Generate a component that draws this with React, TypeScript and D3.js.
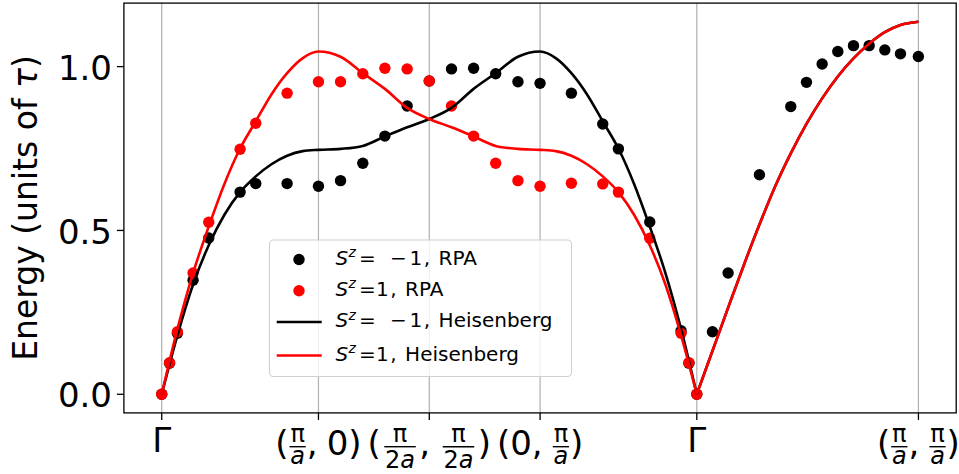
import React from 'react';
import * as d3 from 'd3';

const W = 959;
const H = 474;
const FONT = "'DejaVu Sans', sans-serif";

// Path position (units of pi/a) of the high-symmetry points: Γ, (π/a,0), (π/2a,π/2a), (0,π/a), Γ, (π/a,π/a)
const tickK = [0, 1, 1.7071, 2.4142, 3.4142, 4.8284];
const yTicks = [0.0, 0.5, 1.0];
const yTickLabels = ['0.0', '0.5', '1.0'];

type Part = { t: 'txt'; s: string } | { t: 'frac'; n: string; d: string } | { t: 'sp' };
const xTickLabels: Part[][] = [
  [{ t: 'txt', s: 'Γ' }],
  [{ t: 'txt', s: '(' }, { t: 'frac', n: 'π', d: 'a' }, { t: 'txt', s: ',' }, { t: 'sp' }, { t: 'txt', s: '0)' }],
  [{ t: 'txt', s: '(' }, { t: 'frac', n: 'π', d: '2a' }, { t: 'txt', s: ',' }, { t: 'sp' }, { t: 'frac', n: 'π', d: '2a' }, { t: 'txt', s: ')' }],
  [{ t: 'txt', s: '(0,' }, { t: 'sp' }, { t: 'frac', n: 'π', d: 'a' }, { t: 'txt', s: ')' }],
  [{ t: 'txt', s: 'Γ' }],
  [{ t: 'txt', s: '(' }, { t: 'frac', n: 'π', d: 'a' }, { t: 'txt', s: ',' }, { t: 'sp' }, { t: 'frac', n: 'π', d: 'a' }, { t: 'txt', s: ')' }],
];

// Heisenberg curves along Γ-X-M'-Y-Γ
const heisK = [0, 0.1, 0.2, 0.3, 0.4, 0.5, 0.6, 0.7, 0.8, 0.9, 1.0,
  1.141, 1.283, 1.424, 1.566, 1.707,
  1.849, 1.990, 2.131, 2.273, 2.414,
  2.514, 2.614, 2.714, 2.814, 2.914, 3.014, 3.114, 3.214, 3.314, 3.414];
const heisMinus = [0, 0.18, 0.335, 0.455, 0.548, 0.617, 0.665, 0.702, 0.728, 0.742, 0.746,
  0.749, 0.758, 0.787, 0.815, 0.840,
  0.874, 0.932, 0.980, 1.030, 1.046,
  1.026, 0.98, 0.915, 0.833, 0.75, 0.642, 0.512, 0.37, 0.199, 0];
const heisPlus = [0, 0.199, 0.37, 0.512, 0.642, 0.75, 0.833, 0.915, 0.98, 1.026, 1.046,
  1.030, 0.980, 0.932, 0.874, 0.840,
  0.815, 0.787, 0.758, 0.749, 0.746,
  0.742, 0.728, 0.702, 0.665, 0.617, 0.548, 0.455, 0.335, 0.18, 0];
// Γ-M (both spin sectors coincide)
const heisDiagK = [3.414, 3.514, 3.614, 3.714, 3.814, 3.914, 4.014, 4.114, 4.214, 4.314, 4.414, 4.514, 4.614, 4.714, 4.828];
const heisDiag = [0, 0.132, 0.264, 0.394, 0.518, 0.634, 0.735, 0.825, 0.903, 0.97, 1.025, 1.07, 1.105, 1.127, 1.137];

// RPA points
const rpaK = [0, 0.05, 0.1, 0.2, 0.3, 0.5, 0.6, 0.8, 1.0,
  1.141, 1.283, 1.424, 1.566, 1.707,
  1.849, 1.990, 2.131, 2.273, 2.414,
  2.614, 2.814, 2.914, 3.114, 3.314, 3.364, 3.414];
const rpaMinus = [0, 0.095, 0.186, 0.348, 0.477, 0.617, 0.643, 0.643, 0.635,
  0.652, 0.705, 0.788, 0.880, 0.956,
  0.993, 0.995, 0.978, 0.954, 0.949,
  0.919, 0.825, 0.749, 0.526, 0.194, 0.095, 0];
const rpaPlus = [0, 0.096, 0.191, 0.37, 0.525, 0.748, 0.827, 0.919, 0.954,
  0.954, 0.978, 0.995, 0.993, 0.956,
  0.880, 0.788, 0.705, 0.652, 0.635,
  0.644, 0.642, 0.617, 0.476, 0.186, 0.096, 0];
const rpaDiagK = [3.514, 3.614, 3.814, 4.014, 4.114, 4.214, 4.314, 4.414, 4.514, 4.614, 4.714, 4.828];
const rpaDiagMinus = [0.191, 0.370, 0.670, 0.878, 0.952, 1.008, 1.046, 1.064, 1.064, 1.051, 1.039, 1.031];

const legendItems = [
  { kind: 'dot', color: '#000000', minus: true, suffix: 'RPA' },
  { kind: 'dot', color: '#ff0000', minus: false, suffix: 'RPA' },
  { kind: 'line', color: '#000000', minus: true, suffix: 'Heisenberg' },
  { kind: 'line', color: '#ff0000', minus: false, suffix: 'Heisenberg' },
];

let ctx: CanvasRenderingContext2D | null = null;
function measure(s: string, font: string): number {
  if (!ctx) ctx = document.createElement('canvas').getContext('2d');
  if (!ctx) return s.length * 10;
  ctx.font = font;
  return ctx.measureText(s).width;
}

const BIG = 34;
const SMALL = 24;

const isLetter = (c: string) => /[a-z]/.test(c);
function mathWidth(s: string, size: number) {
  return s.split('').reduce((acc, c) => acc + measure(c, `${isLetter(c) ? 'italic ' : ''}${size}px 'DejaVu Sans'`), 0);
}

function XLabel({ parts, cx, baseline }: { parts: Part[]; cx: number; baseline: number }) {
  const spans: React.ReactNode[] = [];
  const bars: { x1: number; x2: number; y: number }[] = [];
  let cur = 0;
  const barY = baseline - 8.3;
  let key = 0;
  const pushMath = (s: string, xStart: number, yb: number) => {
    let xx = xStart;
    s.split('').forEach((c) => {
      spans.push(
        <tspan key={key++} x={xx} y={yb} fontSize={SMALL} fontStyle={isLetter(c) ? 'italic' : 'normal'}>{c}</tspan>
      );
      xx += measure(c, `${isLetter(c) ? 'italic ' : ''}${SMALL}px 'DejaVu Sans'`);
    });
  };
  parts.forEach((p) => {
    if (p.t === 'txt') {
      spans.push(<tspan key={key++} x={cur} y={baseline} fontSize={BIG}>{p.s}</tspan>);
      cur += measure(p.s, `${BIG}px 'DejaVu Sans'`);
    } else if (p.t === 'sp') {
      cur += BIG * 0.27;
    } else {
      const wn = mathWidth(p.n, SMALL);
      const wd = mathWidth(p.d, SMALL);
      const pad = p.d.length > 1 ? 2.5 : 0;
      const bw = Math.max(wn, wd) + 1.5;
      const x0 = cur + 1 + pad;
      const denTop = /[0-9]/.test(p.d) ? 0.729 * SMALL : 0.547 * SMALL;
      pushMath(p.n, x0 + (bw - wn) / 2, barY - 5);
      pushMath(p.d, x0 + (bw - wd) / 2, barY + 3.8 + denTop);
      bars.push({ x1: x0, x2: x0 + bw, y: barY });
      cur += bw + 2 + 2 * pad;
    }
  });
  return (
    <g transform={`translate(${cx - cur / 2},0)`}>
      <text>{spans}</text>
      {bars.map((b, i) => (
        <line key={i} x1={b.x1} x2={b.x2} y1={b.y} y2={b.y} stroke="#000" strokeWidth={1.4} />
      ))}
    </g>
  );
}

export default function App() {
  const kMax = d3.max(heisDiagK) as number;
  const eMax = d3.max(heisDiag) as number;
  const x = d3.scaleLinear().domain([-0.05 * kMax, kMax * 1.05]).range([123.9, 956.2]);
  const y = d3.scaleLinear().domain([-0.05 * eMax, eMax * 1.05]).range([412.9, 3.1]);
  const [x0, x1] = x.range();
  const [y0, y1] = y.range();

  const line = d3.line<[number, number]>()
    .x((d) => x(d[0]))
    .y((d) => y(d[1]))
    .curve(d3.curveMonotoneX);

  const minusPath = line(heisK.map((k, i) => [k, heisMinus[i]] as [number, number])) || '';
  const plusPath = line(heisK.map((k, i) => [k, heisPlus[i]] as [number, number])) || '';
  const diagPath = line(heisDiagK.map((k, i) => [k, heisDiag[i]] as [number, number])) || '';

  const R = 5.7;
  const LW = 2.6;

  const legendRows = [259.5, 290.8, 322, 355.5];

  return (
    <svg width={W} height={H} style={{ position: 'absolute', left: 0, top: 0, background: '#fff' }}
      fontFamily={FONT}>
      <rect x={0} y={0} width={W} height={H} fill="#fff" />
      {/* vertical grid */}
      {tickK.map((k, i) => (
        <line key={i} x1={x(k)} x2={x(k)} y1={y1} y2={y0} stroke="#b0b0b0" strokeWidth={1.2} />
      ))}
      {/* RPA points */}
      {rpaK.map((k, i) => (
        <circle key={'m' + i} cx={x(k)} cy={y(rpaMinus[i])} r={R} fill="#000" />
      ))}
      {rpaDiagK.map((k, i) => (
        <circle key={'d' + i} cx={x(k)} cy={y(rpaDiagMinus[i])} r={R} fill="#000" />
      ))}
      {rpaK.map((k, i) => (
        <circle key={'p' + i} cx={x(k)} cy={y(rpaPlus[i])} r={R} fill="#ff0000" />
      ))}
      {/* Heisenberg lines */}
      <path d={minusPath} fill="none" stroke="#000" strokeWidth={LW} />
      <path d={diagPath} fill="none" stroke="#000" strokeWidth={LW} />
      <path d={plusPath} fill="none" stroke="#ff0000" strokeWidth={LW} />
      <path d={diagPath} fill="none" stroke="#ff0000" strokeWidth={LW} />

      {/* spines */}
      <rect x={x0} y={y1} width={x1 - x0} height={y0 - y1} fill="none" stroke="#000" strokeWidth={1.3} />

      {/* y ticks */}
      {yTicks.map((v, i) => (
        <g key={i}>
          <line x1={x0 - 7} x2={x0} y1={y(v)} y2={y(v)} stroke="#000" strokeWidth={1.3} />
          <text x={112} y={y(v) + 13.2} fontSize={BIG} textAnchor="end">{yTickLabels[i]}</text>
        </g>
      ))}
      {/* x ticks */}
      {tickK.map((k, i) => (
        <g key={i}>
          <line x1={x(k)} x2={x(k)} y1={y0} y2={y0 + 7} stroke="#000" strokeWidth={1.3} />
          <XLabel parts={xTickLabels[i]} cx={x(k)} baseline={xTickLabels[i].length === 1 ? 452 : 455} />
        </g>
      ))}

      {/* y label */}
      <text transform={`translate(37,${(y0 + y1) / 2}) rotate(-90)`} fontSize={33} textAnchor="middle">
        Energy (units of <tspan fontStyle="italic">τ</tspan>)
      </text>

      {/* legend */}
      <rect x={269.5} y={240} width={302} height={136.5} rx={4} fill="#fff" fillOpacity={0.8}
        stroke="#d0d0d0" strokeWidth={1.1} />
      {legendItems.map((it, i) => {
        const cy = legendRows[i];
        const bl = cy + 5;
        return (
          <g key={i}>
            {it.kind === 'dot'
              ? <circle cx={299} cy={cy} r={R} fill={it.color} />
              : <line x1={276.7} x2={321.7} y1={cy} y2={cy} stroke={it.color} strokeWidth={LW} />}
            <text y={bl} fontSize={20}>
              <tspan x={335.5} fontStyle="italic">S</tspan>
              <tspan x={348.5} dy={-7.5} fontSize={14} fontStyle="italic">z</tspan>
              <tspan x={359} dy={7.5}>=</tspan>
              {it.minus ? <tspan x={390}>−</tspan> : null}
              <tspan x={it.minus ? 409.5 : 376}>1</tspan>
              <tspan dx={1.5}>,</tspan>
              <tspan dx={8.5}>{it.suffix}</tspan>
            </text>
          </g>
        );
      })}
    </svg>
  );
}
